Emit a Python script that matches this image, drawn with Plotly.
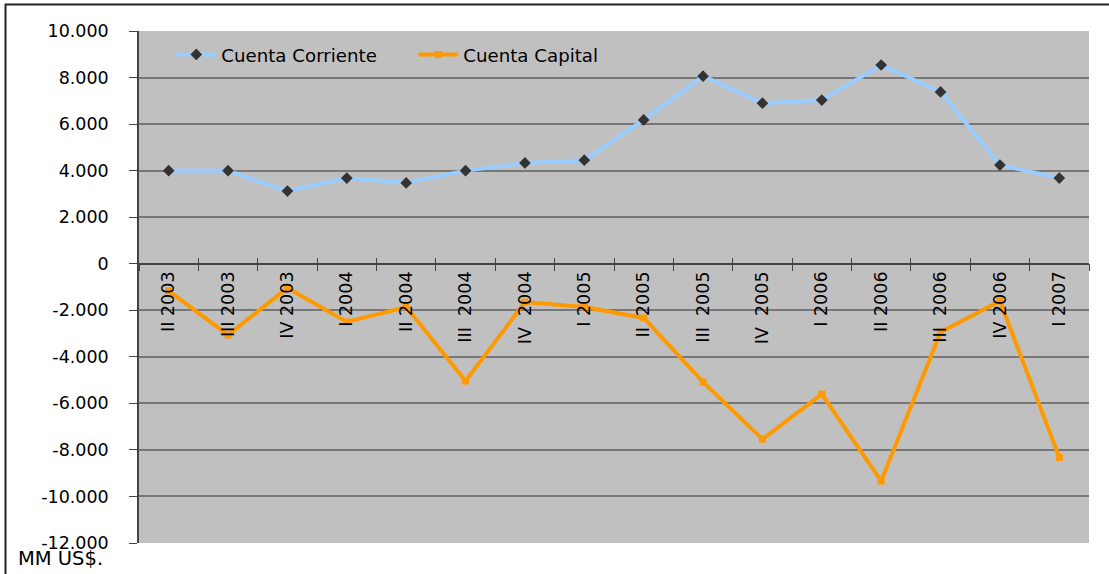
import plotly.graph_objects as go

categories = ["II 2003", "III 2003", "IV 2003", "I 2004", "II 2004", "III\u00a0\u00a02004",
              "IV\u00a0\u00a02004", "I 2005", "II\u00a0\u00a02005", "III\u00a0\u00a02005",
              "IV\u00a0\u00a02005", "I 2006", "II 2006", "III\u00a0\u00a02006", "IV 2006", "I 2007"]
cuenta_corriente = [4000, 4000, 3120, 3680, 3470, 4000, 4330, 4450, 6180, 8060,
                    6900, 7030, 8540, 7380, 4240, 3680]
cuenta_capital = [-1170, -3060, -1040, -2500, -1860, -5040, -1650, -1860, -2330, -5090,
                  -7540, -5600, -9340, -2940, -1600, -8320]
y_tickvals = [10000, 8000, 6000, 4000, 2000, 0, -2000, -4000, -6000, -8000, -10000, -12000]
y_ticktext = ["10.000", "8.000", "6.000", "4.000", "2.000", "0", "-2.000", "-4.000",
              "-6.000", "-8.000", "-10.000", "-12.000"]

FONT = "DejaVu Sans"
FS = 17.5
fig = go.Figure()
fig.add_trace(go.Scatter(
    x=categories, y=cuenta_corriente, name="Cuenta Corriente", mode="lines+markers",
    line=dict(color="#99CCFF", width=4),
    marker=dict(symbol="diamond", size=9, color="#333333")))
fig.add_trace(go.Scatter(
    x=categories, y=cuenta_capital, name="Cuenta Capital", mode="lines+markers",
    line=dict(color="#FF9900", width=4),
    marker=dict(symbol="square", size=7, color="#FF9900")))

zero_pos = 12 / 22
fig.update_layout(
    width=1109, height=574,
    margin=dict(l=139, r=20, t=31, b=31),
    paper_bgcolor="white", plot_bgcolor="#C0C0C0",
    font=dict(family=FONT, size=FS, color="black"),
    showlegend=True,
    legend=dict(orientation="h", x=0.034, y=0.99, xanchor="left", yanchor="top",
                bgcolor="rgba(0,0,0,0)", font=dict(size=18.2, family=FONT),
                itemwidth=40, entrywidth=187, entrywidthmode="pixels"),
    xaxis=dict(type="category", categoryarray=categories, range=[-0.5, 15.5],
               anchor="free", position=zero_pos, showline=True, linecolor="#444444",
               linewidth=1.5, ticks="outside", ticklen=7, tickcolor="#444444",
               tickson="boundaries", tickangle=-90, showgrid=False,
               tickfont=dict(size=FS, family=FONT, color="black")),
    xaxis2=dict(type="category", categoryarray=categories, range=[-0.5, 15.5],
                overlaying="x", matches="x", anchor="free", position=zero_pos,
                showline=False, ticks="inside", ticklen=6, tickcolor="#444444",
                tickson="boundaries", showticklabels=False, showgrid=False),
    yaxis=dict(range=[-12000, 10000], tickvals=y_tickvals, ticktext=y_ticktext,
               showgrid=True, gridcolor="#777777", gridwidth=1.5, zeroline=False,
               showline=True, linecolor="#444444", linewidth=1.5,
               ticks="outside", ticklen=8, tickcolor="#444444", ticklabelstandoff=17,
               tickfont=dict(size=FS, family=FONT, color="black")),
)
fig.add_trace(go.Scatter(x=categories, y=[None] * len(categories), xaxis="x2",
                         showlegend=False, hoverinfo="skip"))
fig.add_shape(type="rect", xref="paper", yref="paper", x0=-0.1405, x1=1.03, y0=-0.07, y1=1.052,
              line=dict(color="#222222", width=2), fillcolor="rgba(0,0,0,0)", layer="above")
fig.add_annotation(text="MM US$.", xref="paper", yref="paper", x=-0.129, y=-0.003,
                   xanchor="left", yanchor="top", showarrow=False,
                   font=dict(size=19.5, family=FONT, color="black"))
fig.write_html("out.html", config={"displayModeBar": False},
               post_script="document.body.style.margin='0';")
